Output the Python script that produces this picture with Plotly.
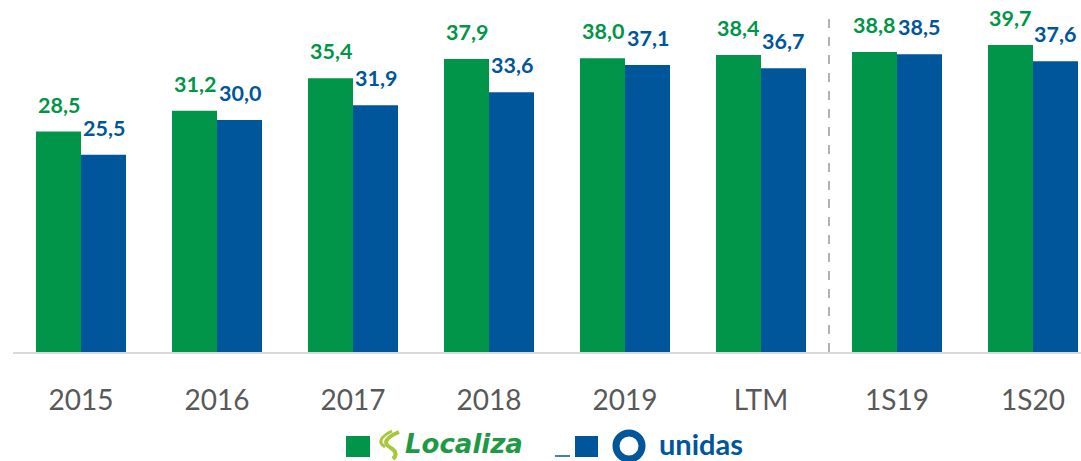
import plotly.graph_objects as go

categories = ["2015", "2016", "2017", "2018", "2019", "LTM", "1S19", "1S20"]
localiza = [28.5, 31.2, 35.4, 37.9, 38.0, 38.4, 38.8, 39.7]
unidas = [25.5, 30.0, 31.9, 33.6, 37.1, 36.7, 38.5, 37.6]

GREEN = "#009548"
BLUE = "#00569b"

W, H = 1081, 461
ML, MR, MT, MB = 13, 0, 0, 109
PW, PH = W - ML - MR, H - MT - MB

def px(x):
    return (x - ML) / PW

def py(y):
    return (H - MB - y) / PH

fig = go.Figure()
fig.add_trace(go.Bar(x=categories, y=localiza, name="Localiza", marker_color=GREEN,
                     marker_line_width=0, showlegend=False))
fig.add_trace(go.Bar(x=categories, y=unidas, name="unidas", marker_color=BLUE,
                     marker_line_width=0, showlegend=False))

def fmt(v):
    return f"{v:.1f}".replace(".", ",")

ann = []
for i, (g, b) in enumerate(zip(localiza, unidas)):
    ann.append(dict(x=i, y=g, text=f"<b>{fmt(g)}</b>", showarrow=False, xshift=-22.5,
                    yshift=12, yanchor="bottom", font=dict(family="Lato", size=21.5, color=GREEN)))
    ann.append(dict(x=i, y=b, text=f"<b>{fmt(b)}</b>", showarrow=False, xshift=22.5,
                    yshift=12, yanchor="bottom", font=dict(family="Lato", size=21.5, color=BLUE)))

# legend (logo-like text)
ann.append(dict(xref="paper", yref="paper", x=px(403), y=py(444), xanchor="left", yanchor="middle",
                text="<b><i>Localiza</i></b>", showarrow=False,
                font=dict(family="DejaVu Sans", size=26, color="#1e9a45")))
ann.append(dict(xref="paper", yref="paper", x=px(657), y=py(443), xanchor="left", yanchor="middle",
                text="<b>unidas</b>", showarrow=False,
                font=dict(family="Lato", size=29, color=BLUE)))

swoosh = (f"M {px(399)},{py(432)} Q {px(378)},{py(441)} {px(391)},{py(448)} "
          f"Q {px(399)},{py(453)} {px(393)},{py(459)}")
swoosh2 = (f"M {px(392)},{py(431)} Q {px(374)},{py(440)} {px(385)},{py(447)}")

shapes = [
    dict(type="line", xref="x", yref="paper", x0=5.5, x1=5.5, y0=0, y1=py(18),
         line=dict(color="#808080", width=1.2, dash="dash")),
    dict(type="rect", xref="paper", yref="paper", x0=px(346), x1=px(370), y0=py(457), y1=py(436),
         fillcolor=GREEN, line_width=0),
    dict(type="rect", xref="paper", yref="paper", x0=px(575), x1=px(598), y0=py(457), y1=py(436),
         fillcolor=BLUE, line_width=0),
    dict(type="line", xref="paper", yref="paper", x0=px(555), x1=px(570), y0=py(456), y1=py(456),
         line=dict(color=BLUE, width=1.5)),
    dict(type="circle", xref="paper", yref="paper", x0=px(616), x1=px(642), y0=py(459), y1=py(433),
         line=dict(color=BLUE, width=7)),
    dict(type="path", xref="paper", yref="paper", path=swoosh, line=dict(color="#a6c83a", width=4)),
    dict(type="path", xref="paper", yref="paper", path=swoosh2, line=dict(color="#a6c83a", width=3)),
]

fig.update_layout(
    width=W, height=H,
    margin=dict(l=ML, r=MR, t=MT, b=MB),
    paper_bgcolor="white", plot_bgcolor="white",
    barmode="group", bargap=0.338, bargroupgap=0,
    annotations=ann, shapes=shapes,
    xaxis=dict(type="category", range=[-0.5, 7.353], showline=True, linecolor="#d9d9d9",
               linewidth=2, showgrid=False, ticks="", ticklabelstandoff=22,
               tickfont=dict(family="Lato", size=28, color="#595959"), fixedrange=True),
    yaxis=dict(range=[0, 45.52], visible=False, showgrid=False, zeroline=False),
    showlegend=False,
)

fig.write_html("out.html", config={"displayModeBar": False},
               post_script="document.body.style.margin='0';document.body.style.overflow='hidden';")
